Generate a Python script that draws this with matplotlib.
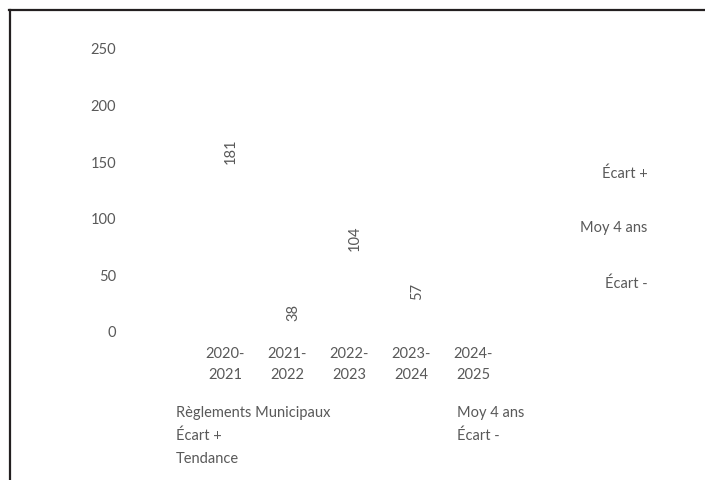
import matplotlib.pyplot as plt
from matplotlib.lines import Line2D

plt.rcParams['font.family'] = ['Lato', 'DejaVu Sans']

saisons = ['2020-\n2021', '2021-\n2022', '2022-\n2023', '2023-\n2024', '2024-\n2025']
reglements = [181, 38, 104, 57, None]
moy_4ans = 92
ecart_plus = 140
ecart_moins = 43
series = ['Règlements Municipaux', 'Moy 4 ans', 'Écart +', 'Écart -', 'Tendance']

grey = '#595959'
fs = 10.5

fig = plt.figure(figsize=(7.05, 4.81), dpi=100)
W, H = 705, 481
ax = fig.add_axes([194 / W, (H - 332) / H, 310 / W, (332 - 49) / H])

x = list(range(len(saisons)))
vals = [v if v is not None else 0 for v in reglements]
# bars have no fill in the original, only the labels show
ax.bar(x, vals, width=0.6, color='none', edgecolor='none')
for xi, v in zip(x, reglements):
    if v is None:
        continue
    ax.text(xi + 0.1, v - 21, str(v), rotation=90, ha='center', va='center',
            fontsize=fs, color=grey)

# reference lines (invisible) with their labels on the right
for val, name in [(ecart_plus, 'Écart +'), (moy_4ans, 'Moy 4 ans'), (ecart_moins, 'Écart -')]:
    ax.plot(x, [val] * len(x), color='none')
    ax.text(6.82, val, name, ha='right', va='center', fontsize=fs, color=grey,
            clip_on=False)

ax.set_xlim(-0.5, 4.5)
ax.set_ylim(0, 250)
ax.set_yticks([0, 50, 100, 150, 200, 250])
ax.set_xticks(x)
ax.set_xticklabels(saisons, linespacing=1.65)
ax.tick_params(axis='y', length=0, pad=56, labelsize=fs, labelcolor=grey)
ax.tick_params(axis='x', length=0, pad=11, labelsize=fs, labelcolor=grey)
for s in ax.spines.values():
    s.set_visible(False)
ax.patch.set_alpha(0)

# legend below, Excel style (no markers visible)
pos = [(176, 413), (457, 413), (176, 436), (457, 436), (176, 459)]
for name, (px, py) in zip(series, pos):
    fig.text(px / W, 1 - py / H, name, ha='left', va='center', fontsize=fs, color=grey)

# title, mostly cut off by the top of the image
fig.text(355 / W, 1 + 2.5 / H, 'Nombre de plaintes par type – Règlements municipaux',
         ha='center', va='baseline', fontsize=13, fontweight='bold', color='#222222')

# frame (left and top edges only)
fig.add_artist(Line2D([9.5 / W, 9.5 / W], [0, 1 - 10.5 / H], color='#231f20', lw=1.6,
                      transform=fig.transFigure))
fig.add_artist(Line2D([9 / W, 1], [1 - 10.5 / H, 1 - 10.5 / H], color='#231f20', lw=1.6,
                      transform=fig.transFigure))

fig.savefig('out.png', dpi=100)
